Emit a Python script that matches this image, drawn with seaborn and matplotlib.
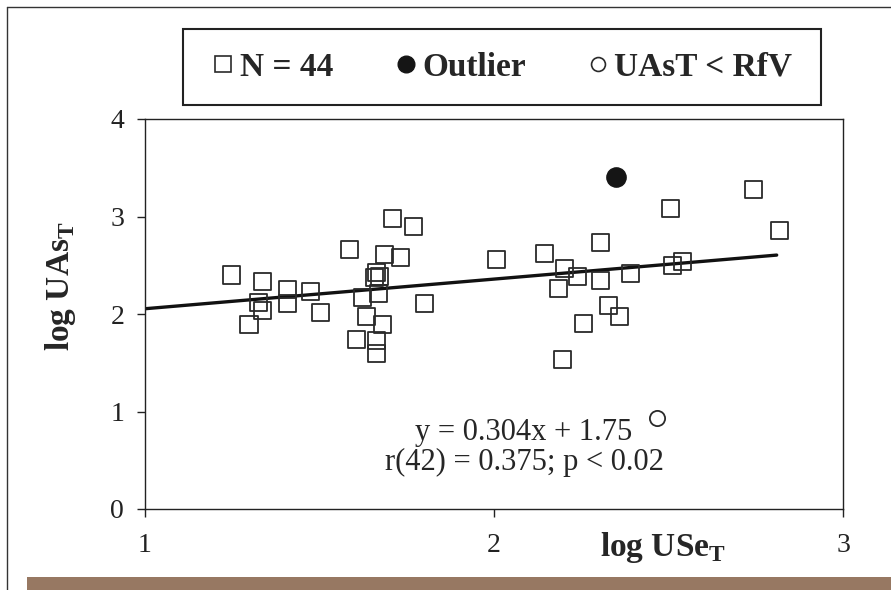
import matplotlib
matplotlib.use("Agg")
import matplotlib.pyplot as plt
from matplotlib.lines import Line2D
from matplotlib.patches import Rectangle
import seaborn as sns
import pandas as pd
import numpy as np

# ---- data ----
use_t = [1.248, 1.298, 1.325, 1.336, 1.336, 1.409, 1.409, 1.475, 1.502, 1.585,
         1.607, 1.624, 1.636, 1.664, 1.673, 1.659, 1.664, 1.664, 1.670, 1.681,
         1.686, 1.709, 1.731, 1.769, 1.802, 2.006, 2.146, 2.184, 2.196, 2.201,
         2.240, 2.256, 2.306, 2.306, 2.329, 2.361, 2.390, 2.506, 2.512, 2.540,
         2.743, 2.817]
uas_t = [2.40, 1.89, 2.12, 2.33, 2.04, 2.25, 2.11, 2.23, 2.02, 2.66,
         1.74, 2.17, 1.97, 2.43, 2.38, 2.37, 1.73, 1.59, 2.21, 1.89,
         2.61, 2.98, 2.58, 2.90, 2.11, 2.56, 2.62, 2.26, 1.53, 2.47,
         2.38, 1.90, 2.73, 2.34, 2.09, 1.97, 2.42, 3.08, 2.50, 2.54,
         3.28, 2.86]
outlier_x = [2.349]
outlier_y = [3.41]
below_rfv_x = [2.468]
below_rfv_y = [0.93]
slope = 0.304
intercept = 1.75
fit_x_range = [1.0, 2.81]
x_ticks = [1, 2, 3]
y_ticks = [0, 1, 2, 3, 4]
legend_labels = ["N = 44", "Outlier", "UAsT < RfV"]
eq_text = "y = 0.304x + 1.75"
stat_text = "r(42) = 0.375; p < 0.02"

sns.set_style("ticks")
plt.rcParams["font.family"] = ["Liberation Serif", "DejaVu Serif"]
plt.rcParams["mathtext.fontset"] = "custom"
plt.rcParams["mathtext.rm"] = "Liberation Serif"
plt.rcParams["mathtext.bf"] = "Liberation Serif:bold"

W, H = 891, 590
fig = plt.figure(figsize=(W / 100, H / 100), dpi=100)
fig.patch.set_facecolor("white")
ax = fig.add_axes([145 / W, 1 - 509 / H, (843 - 145) / W, (509 - 119) / H])

df = pd.DataFrame({"USe": use_t, "UAs": uas_t})
edge = "#2a2a2a"
sns.scatterplot(data=df, x="USe", y="UAs", marker="s", s=150,
                facecolor="none", edgecolor=edge, linewidth=1.3, ax=ax, zorder=3)
sns.scatterplot(x=outlier_x, y=outlier_y, marker="o", s=190,
                color="#151515", edgecolor="#151515", ax=ax, zorder=3)
sns.scatterplot(x=below_rfv_x, y=below_rfv_y, marker="o", s=120,
                facecolor="white", edgecolor=edge, linewidth=1.3, ax=ax, zorder=3)

fx = np.array(fit_x_range)
ax.plot(fx, slope * fx + intercept, color="#111111", lw=2.4, zorder=2)

ax.set_xlim(1, 3)
ax.set_ylim(0, 4)
ax.set_xticks(x_ticks)
ax.set_yticks(y_ticks)
ax.tick_params(axis="both", direction="out", length=6, width=1.0,
               labelsize=20, pad=9, colors="#222222")
ax.tick_params(axis="x", pad=11)
for s in ax.spines.values():
    s.set_visible(True)
    s.set_linewidth(1.0)
    s.set_color("#222222")

ax.set_xlabel(r"log USe$_\mathbf{T}$", fontsize=24, fontweight="bold")
ax.set_ylabel(r"log UAs$_\mathbf{T}$", fontsize=24, fontweight="bold")
ax.xaxis.set_label_coords(0.742, -0.055)
ax.yaxis.set_label_coords(-0.096, 0.572)

ax.text(2.086, 0.708, eq_text, ha="center", va="baseline", fontsize=22)
ax.text(2.086, 0.40, stat_text, ha="center", va="baseline", fontsize=22)

# legend box
fig.patches.append(Rectangle((183 / W, 1 - 105 / H), (821 - 183) / W, 76 / H,
                             transform=fig.transFigure, fill=False,
                             edgecolor="#222222", lw=1.5))
handles = [
    Line2D([], [], ls="", marker="s", ms=11, mfc="white", mec=edge, mew=1.2),
    Line2D([], [], ls="", marker="o", ms=12, mfc="#151515", mec="#151515"),
    Line2D([], [], ls="", marker="o", ms=10, mfc="white", mec=edge, mew=1.2),
]
fig.legend(handles, legend_labels, loc="center", bbox_to_anchor=(0.5645, 0.886),
           ncol=3, frameon=False, handlelength=0.6, handletextpad=0.2,
           columnspacing=1.86, prop={"weight": "bold", "size": 24})

# outer border and bottom bar
fig.add_artist(Line2D([7 / W, 1], [1 - 7 / H, 1 - 7 / H], transform=fig.transFigure,
                      color="#333333", lw=1.0))
fig.add_artist(Line2D([7 / W, 7 / W], [0, 1 - 7 / H], transform=fig.transFigure,
                      color="#333333", lw=1.0))
fig.patches.append(Rectangle((27 / W, 0), 1, 13 / H, transform=fig.transFigure,
                             facecolor="#977862", edgecolor="none"))

fig.savefig("out.png", dpi=100, facecolor="white")
